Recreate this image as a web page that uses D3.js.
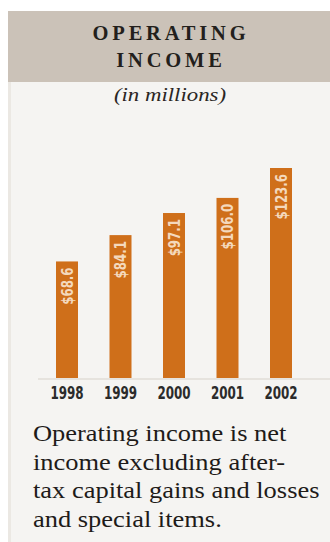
<!DOCTYPE html>
<html>
<head>
<meta charset="utf-8">
<script src="https://cdn.jsdelivr.net/npm/d3@7"></script>
<style>
  html, body { margin: 0; padding: 0; background: #ffffff; }
  svg { display: block; }
</style>
</head>
<body>
<div id="chart"></div>
<script>
// data
const years = ["1998", "1999", "2000", "2001", "2002"];
const income = [68.6, 84.1, 97.1, 106.0, 123.6];
const valueLabels = ["$68.6", "$84.1", "$97.1", "$106.0", "$123.6"];
const titleLines = ["OPERATING", "INCOME"];
const subtitle = "(in millions)";
const noteLines = [
  "Operating income is net",
  "income excluding after-",
  "tax capital gains and losses",
  "and special items."
];

const W = 330, H = 542;
const condensed = "'DejaVu Sans Condensed', 'DejaVu Sans', sans-serif";
const serif = "'Liberation Serif', 'DejaVu Serif', serif";

// stretch / squeeze a text horizontally by factor k
function scaleText(sel, k) {
  sel.each(function () {
    const len = this.getComputedTextLength();
    d3.select(this)
      .attr("textLength", len * k)
      .attr("lengthAdjust", "spacingAndGlyphs");
  });
}

const svg = d3.select("#chart")
  .append("svg")
  .attr("width", W)
  .attr("height", H)
  .attr("viewBox", [0, 0, W, H]);

// panel + header
svg.append("rect")
  .attr("x", 8).attr("y", 82).attr("width", W - 8).attr("height", H - 82)
  .attr("fill", "#f5f4f2");
svg.append("rect")
  .attr("x", 8).attr("y", 82).attr("width", 3).attr("height", H - 82)
  .attr("fill", "#ebe8e3");
svg.append("rect")
  .attr("x", 8).attr("y", 11).attr("width", W - 8).attr("height", 71)
  .attr("fill", "#cbc2b8");

const cx = (8 + W) / 2;

svg.append("g")
  .selectAll("text")
  .data(titleLines)
  .join("text")
  .attr("x", cx + 2)
  .attr("y", (d, i) => 39.5 + i * 27)
  .attr("text-anchor", "middle")
  .attr("font-family", serif)
  .attr("font-weight", "bold")
  .attr("font-size", 20.5)
  .attr("letter-spacing", 3.8)
  .attr("fill", "#231f1c")
  .text(d => d);

svg.append("text")
  .attr("x", cx + 1)
  .attr("y", 101)
  .attr("text-anchor", "middle")
  .attr("font-family", serif)
  .attr("font-style", "italic")
  .attr("font-size", 19)
  .attr("fill", "#2a2624")
  .text(subtitle)
  .call(scaleText, 1.2);

// scales
const x = d3.scaleBand()
  .domain(years)
  .range([40.25, 307.75])
  .paddingInner(0.589)
  .paddingOuter(0.2945);

const y = d3.scaleLinear()
  .domain([0, 123.6])
  .range([378, 168]);

// baseline
svg.append("rect")
  .attr("x", 38).attr("y", y(0)).attr("width", W - 38).attr("height", 2)
  .attr("fill", "#e6e3de");

// bars
svg.append("g")
  .selectAll("rect")
  .data(income)
  .join("rect")
  .attr("x", (d, i) => x(years[i]))
  .attr("y", d => y(d))
  .attr("width", x.bandwidth())
  .attr("height", d => y(0) - y(d))
  .attr("fill", "#cf6f1a");

// value labels, rotated inside bar tops
svg.append("g")
  .selectAll("text")
  .data(income)
  .join("text")
  .attr("transform", (d, i) =>
    `translate(${x(years[i]) + x.bandwidth() / 2 + 5.5},${y(d) + 6}) rotate(-90)`)
  .attr("text-anchor", "end")
  .attr("font-family", condensed)
  .attr("font-weight", "bold")
  .attr("font-size", 16)
  .attr("fill", "#f4d9bd")
  .text((d, i) => valueLabels[i])
  .call(scaleText, 0.82);

// year axis
const ax = d3.axisBottom(x).tickSize(0).tickPadding(0);
svg.append("g")
  .attr("transform", `translate(0,${y(0)})`)
  .call(ax)
  .call(g => g.select(".domain").remove())
  .call(g => g.selectAll("text")
    .attr("dy", null)
    .attr("y", 20.5)
    .attr("font-family", condensed)
    .attr("font-weight", "bold")
    .attr("font-size", 17)
    .attr("fill", "#2b2b2b")
    .call(scaleText, 0.78));

// note
svg.append("g")
  .selectAll("text")
  .data(noteLines)
  .join("text")
  .attr("x", 33)
  .attr("y", (d, i) => 441 + i * 28.5)
  .attr("font-family", serif)
  .attr("font-size", 23)
  .attr("fill", "#1e1b19")
  .text(d => d)
  .call(scaleText, 1.15);
</script>
</body>
</html>
